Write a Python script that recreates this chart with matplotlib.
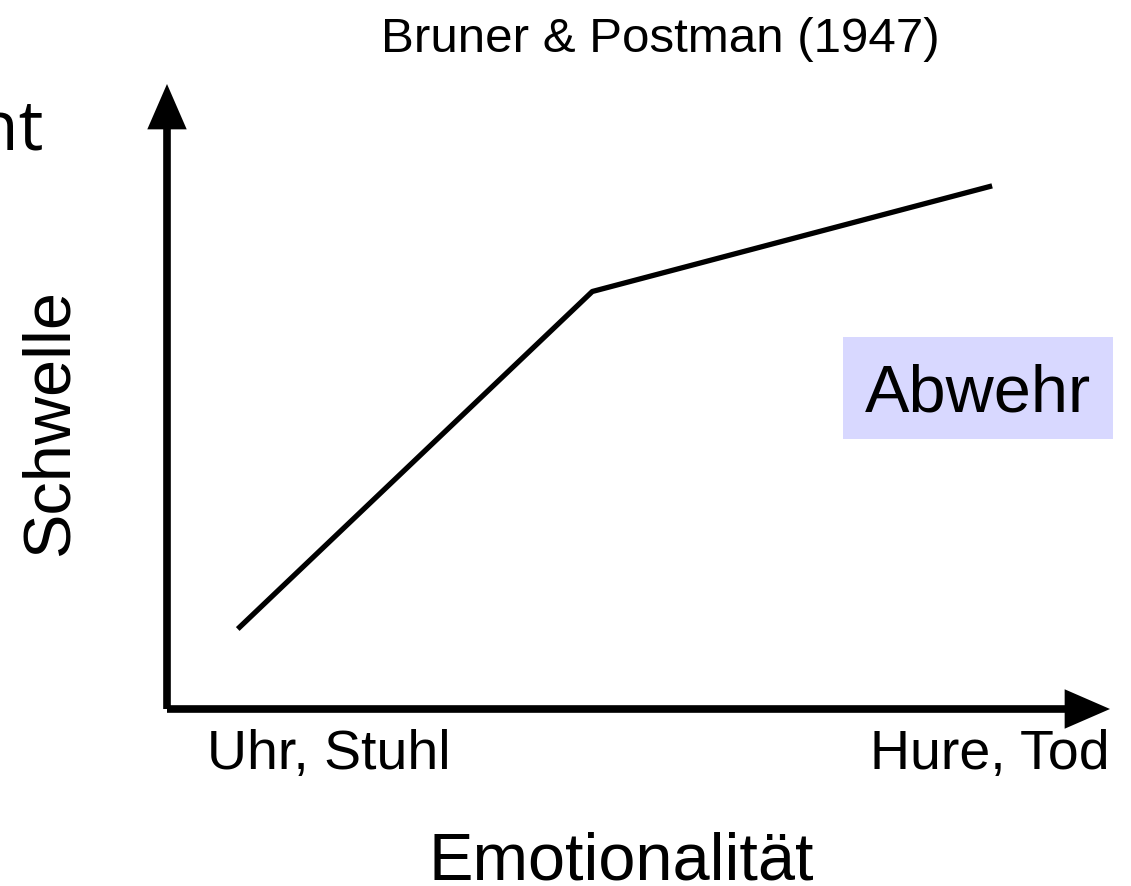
import matplotlib.pyplot as plt
from matplotlib.patches import Rectangle

# Emotionalität (0..10) vs. Schwelle (0..10)
emotion = [0.75, 4.51, 8.75]
threshold = [1.28, 6.68, 8.37]
x_labels = ['Uhr, Stuhl', 'Hure, Tod']

W, H = 1131, 887
fig = plt.figure(figsize=(W / 100, H / 100), dpi=100)


def fx(px):
    return px / W


def fy(py):
    return 1 - py / H


# axes: origin at (167, 710) px, x=10 at 1110 px, y=10 at 85 px
ax = fig.add_axes([fx(167), fy(710), fx(1110) - fx(167), fy(85) - fy(710)])
ax.set_xlim(0, 10)
ax.set_ylim(0, 10)
ax.axis('off')

ax.plot(emotion, threshold, color='black', lw=3.8, solid_capstyle='butt')

arrow = dict(arrowstyle='-|>,head_length=1.15,head_width=0.5', lw=5.5,
             color='black', mutation_scale=20, shrinkA=0, shrinkB=0,
             joinstyle='miter', capstyle='butt')
ax.annotate('', xy=(0, 1), xytext=(0, 0), xycoords='axes fraction',
            arrowprops=arrow, annotation_clip=False)
ax.annotate('', xy=(1, 0), xytext=(0, 0), xycoords='axes fraction',
            arrowprops=arrow, annotation_clip=False)

font = 'Liberation Sans'
fig.text(fx(660), fy(52), 'Bruner & Postman (1947)', ha='center',
         va='baseline', fontsize=35.5, family=font)
fig.text(fx(20), fy(423), 'Schwelle', rotation=90, ha='left', va='center',
         fontsize=48, family=font)
fig.text(fx(621), fy(880), 'Emotionalität', ha='center', va='baseline',
         fontsize=48, family=font)
fig.text(fx(207), fy(769), x_labels[0], ha='left', va='baseline',
         fontsize=40, family=font)
fig.text(fx(1110), fy(769), x_labels[1], ha='right', va='baseline',
         fontsize=40, family=font)
fig.text(fx(43), fy(150), 'nt', ha='right', va='baseline', fontsize=50,
         family='Open Sans')

fig.patches.append(Rectangle((fx(843), fy(440)), fx(1113) - fx(843),
                             fy(338) - fy(440), transform=fig.transFigure,
                             facecolor='#d8d8ff', edgecolor='none'))
fig.text(fx(978), fy(412), 'Abwehr', ha='center', va='baseline',
         fontsize=48, family=font)

fig.savefig('out.png', dpi=100)
